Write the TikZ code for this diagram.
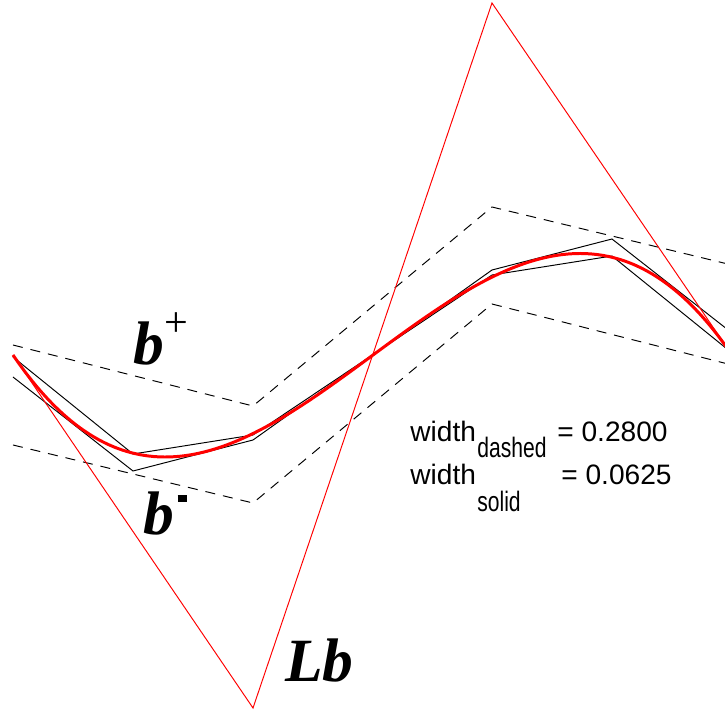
\documentclass[tikz,border=0pt]{standalone}
\usepackage{fontspec}
\setmainfont{Liberation Serif}
\newfontfamily\widthfont{Liberation Sans}
\newfontfamily\subsfont[FakeStretch=0.75]{Liberation Sans}
\definecolor{CurveRed}{HTML}{FF0000}

\begin{document}
\begin{tikzpicture}[x=0.02cm,y=-0.02cm,
  solidpoly/.style={black,line width=0.55pt},
  dashpoly/.style={black,line width=0.55pt,dash pattern=on 0.2cm off 0.16cm},
  ctrlpoly/.style={CurveRed,line width=0.55pt},
  bezcurve/.style={CurveRed,line width=1.7pt},
  boldlbl/.style={anchor=base west,inner sep=0pt,font=\fontsize{35}{40}\selectfont\bfseries\itshape},
  widthlbl/.style={anchor=base west,inner sep=0pt,font=\widthfont\fontsize{16}{19}\selectfont},
  sublbl/.style={anchor=base west,inner sep=0pt,font=\subsfont\fontsize{16}{19}\selectfont}]
\path[use as bounding box] (0,0) rectangle (725,713);
\clip (0,0) rectangle (725,713);
% control points of the cubic
\coordinate (p0) at (13,355);
\coordinate (p1) at (253,708);
\coordinate (p2) at (492,3);
\coordinate (p3) at (732,355);
% dashed band
\draw[dashpoly] (13,345) -- (253,406) -- (492,207) -- (732,265);
\draw[dashpoly] (13,445) -- (253,503) -- (492,304) -- (732,365);
% solid band
\draw[solidpoly] (13,357) -- (133,454) -- (253,435) -- (372.5,355) -- (492,270) -- (612,239) -- (732,333);
\draw[solidpoly] (13,377) -- (133,471) -- (253,440) -- (372.5,355) -- (492,275) -- (612,256) -- (732,353);
% control polygon and curve
\draw[ctrlpoly] (p0) -- (p1) -- (p2) -- (p3);
\draw[bezcurve] (p0) .. controls (p1) and (p2) .. (p3);
% labels
\node[boldlbl] (bplus) at (133,365) {b\kern0.5pt\raisebox{16pt}{\normalfont\fontsize{24}{24}\selectfont +}};
\node[boldlbl] (bminus) at (143,535) {b\kern2pt\rule[0.66cm]{0.18cm}{0.14cm}};
\node[boldlbl] (lb) at (285,682) {Lb};
\node[widthlbl] (wdash) at (410,442) {width};
\node[sublbl] (wdashsub) at (477,458) {dashed};
\node[widthlbl] (wdashval) at (557,442) {= 0.2800};
\node[widthlbl] (wsolid) at (410,485) {width};
\node[sublbl] (wsolidsub) at (477,512) {solid};
\node[widthlbl] (wsolidval) at (561,485) {= 0.0625};
\end{tikzpicture}
\end{document}
